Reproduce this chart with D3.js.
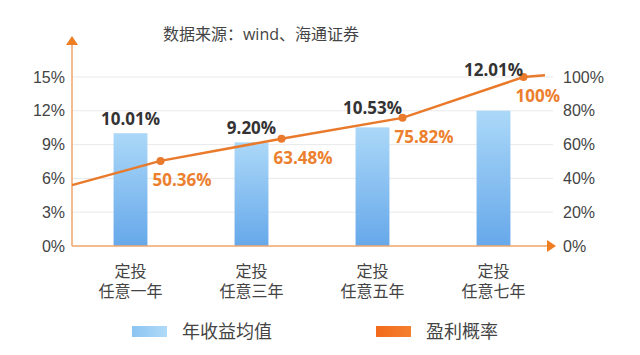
<!DOCTYPE html>
<html>
<head>
<meta charset="utf-8">
<script src="https://cdn.jsdelivr.net/npm/d3@7"></script>
<style>
  body { margin: 0; background: #fff; }
  svg { font-family: "Open Sans", "Noto Sans CJK SC", sans-serif; }
</style>
</head>
<body>
<div id="chart"></div>
<script>
// data
const categories = ["定投\n任意一年", "定投\n任意三年", "定投\n任意五年", "定投\n任意七年"];
const avgReturn = [10.01, 9.20, 10.53, 12.01];     // 年收益均值 (%)
const winRate = [50.36, 63.48, 75.82, 100];        // 盈利概率 (%)
const lineEdges = [36, 101];                       // line lead-in / lead-out values
const leftTicks = [0, 3, 6, 9, 12, 15];
const rightTicks = [0, 20, 40, 60, 80, 100];
const legendItems = ["年收益均值", "盈利概率"];

const W = 640, H = 355;
const orange = "#e97a2b";

const svg = d3.select("#chart").append("svg")
    .attr("width", W)
    .attr("height", H);

const defs = svg.append("defs");
const barGrad = defs.append("linearGradient")
    .attr("id", "barGrad").attr("x1", 0).attr("y1", 0).attr("x2", 0).attr("y2", 1);
barGrad.append("stop").attr("offset", "0%").attr("stop-color", "#abd8f8");
barGrad.append("stop").attr("offset", "100%").attr("stop-color", "#66a8ea");

// scales
const x = d3.scaleBand()
    .domain(categories)
    .range([70, 554])
    .paddingInner(0.72)
    .paddingOuter(0.36);

const yL = d3.scaleLinear().domain([0, 15]).range([246, 77]);
const yR = d3.scaleLinear().domain([0, 100]).range([246, 77]);

const axisX0 = 72, axisX1 = 556;

// title
svg.append("text")
    .attr("x", 261).attr("y", 40)
    .attr("text-anchor", "middle")
    .style("font-size", "16px")
    .style("fill", "#444")
    .text("数据来源：wind、海通证券");

// gridlines
svg.append("g").selectAll("line")
    .data(leftTicks.slice(1))
    .join("line")
    .attr("x1", axisX0).attr("x2", 553)
    .attr("y1", d => yL(d)).attr("y2", d => yL(d))
    .attr("stroke", "#e9e9e9")
    .attr("stroke-width", 1);

// left axis labels
const gL = svg.append("g")
    .attr("transform", `translate(${axisX0},0)`)
    .call(d3.axisLeft(yL).tickValues(leftTicks).tickFormat(d => d + "%").tickSize(0).tickPadding(7));
gL.select(".domain").remove();
gL.selectAll("text").style("font-size", "16px").style("fill", "#444").style("font-family", null);

// right axis labels
const gR = svg.append("g")
    .attr("transform", `translate(${axisX1},0)`)
    .call(d3.axisRight(yR).tickValues(rightTicks).tickFormat(d => d + "%").tickSize(0).tickPadding(7));
gR.select(".domain").remove();
gR.selectAll("text").style("font-size", "16px").style("fill", "#444").style("font-family", null);

// bars
svg.append("g").selectAll("rect")
    .data(avgReturn)
    .join("rect")
    .attr("x", (d, i) => x(categories[i]))
    .attr("y", d => yL(d))
    .attr("width", x.bandwidth())
    .attr("height", d => yL(0) - yL(d))
    .attr("fill", "url(#barGrad)");

// axes lines with arrows
svg.append("line")
    .attr("x1", axisX0).attr("x2", axisX0)
    .attr("y1", yL(0)).attr("y2", 43)
    .attr("stroke", "#f0a468").attr("stroke-width", 1.5);
svg.append("path")
    .attr("d", `M${axisX0},36 L${axisX0 - 6},45 L${axisX0 + 6},45 Z`)
    .attr("fill", "#ef7d22");
svg.append("line")
    .attr("x1", axisX0).attr("x2", 548)
    .attr("y1", yL(0)).attr("y2", yL(0))
    .attr("stroke", "#f0a468").attr("stroke-width", 1.5);
svg.append("path")
    .attr("d", `M${axisX1},${yL(0)} L547,${yL(0) - 6} L547,${yL(0) + 6} Z`)
    .attr("fill", "#ef7d22");

// line
const px = i => x(categories[i]) + x.bandwidth() / 2 + 30;
const pts = winRate.map((v, i) => [px(i), yR(v)]);
const linePts = [[axisX0, yR(lineEdges[0])], ...pts, [545, yR(lineEdges[1])]];

svg.append("path")
    .datum(linePts)
    .attr("d", d3.line())
    .attr("fill", "none")
    .attr("stroke", orange)
    .attr("stroke-width", 2.5);

svg.append("g").selectAll("circle")
    .data(pts)
    .join("circle")
    .attr("cx", d => d[0]).attr("cy", d => d[1])
    .attr("r", 4)
    .attr("fill", orange);

// line y at a given x (for placing bar labels above the line)
const lineYAt = xx => {
    for (let k = 0; k < linePts.length - 1; k++) {
        const [a, b] = [linePts[k], linePts[k + 1]];
        if (xx >= a[0] && xx <= b[0]) return a[1] + (b[1] - a[1]) * (xx - a[0]) / (b[0] - a[0]);
    }
    return Infinity;
};

// bar labels
svg.append("g").selectAll("text")
    .data(avgReturn)
    .join("text")
    .attr("x", (d, i) => x(categories[i]) + x.bandwidth() / 2)
    .attr("y", (d, i) => Math.min(yL(d) - 8, lineYAt(x(categories[i]) + x.bandwidth() / 2 + 15) - 6))
    .attr("text-anchor", "middle")
    .style("font-size", "17px")
    .style("font-weight", "bold")
    .style("fill", "#333")
    .text(d => d.toFixed(2) + "%");

// line labels
svg.append("g").selectAll("text")
    .data(winRate)
    .join("text")
    .attr("x", (d, i) => pts[i][0] - 8)
    .attr("y", (d, i) => pts[i][1] + 25)
    .style("font-size", "17px")
    .style("font-weight", "bold")
    .style("fill", "#ec7f2e")
    .text(d => (d === 100 ? "100" : d.toFixed(2)) + "%");

// category labels
const cat = svg.append("g").selectAll("text")
    .data(categories)
    .join("text")
    .attr("text-anchor", "middle")
    .style("font-size", "16px")
    .style("fill", "#444");
cat.each(function (d) {
    const t = d3.select(this);
    const cx = x(d) + x.bandwidth() / 2;
    d.split("\n").forEach((s, k) => {
        t.append("tspan").attr("x", cx).attr("y", 277 + k * 20).text(s);
    });
});

// legend
const lgGrad = defs.append("linearGradient").attr("id", "lgBlue");
lgGrad.append("stop").attr("offset", "0%").attr("stop-color", "#8cc4f2");
lgGrad.append("stop").attr("offset", "100%").attr("stop-color", "#b0dbf8");
const lgGrad2 = defs.append("linearGradient").attr("id", "lgOrange");
lgGrad2.append("stop").attr("offset", "0%").attr("stop-color", "#f26a1b");
lgGrad2.append("stop").attr("offset", "100%").attr("stop-color", "#f4802e");

const legendX = [132, 376];
const legendFill = ["url(#lgBlue)", "url(#lgOrange)"];
legendItems.forEach((name, i) => {
    const g = svg.append("g").attr("transform", `translate(${legendX[i]},326)`);
    g.append("rect").attr("width", 35).attr("height", 11).attr("fill", legendFill[i]);
    g.append("text")
        .attr("x", 50).attr("y", 12)
        .style("font-size", "18px")
        .style("fill", "#444")
        .text(name);
});
</script>
</body>
</html>
